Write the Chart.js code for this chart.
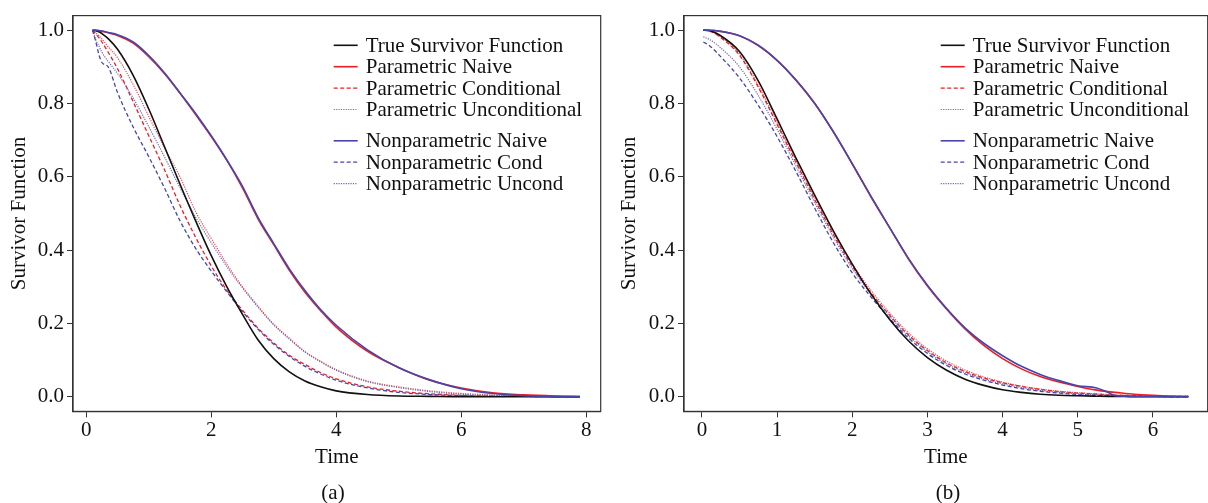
<!DOCTYPE html>
<html>
<head>
<meta charset="utf-8">
<script src="https://cdn.jsdelivr.net/npm/chart.js@4.4.1/dist/chart.umd.min.js"></script>
<style>
  body { margin: 0; background: #fff; width: 1208px; height: 503px; position: relative; overflow: hidden; font-family: 'Liberation Serif', serif; }
  canvas { position: absolute; top: 0; }
  #chartA { left: 0; }
  #chartB { left: 604px; }
  .cap { position: absolute; top: 480px; width: 60px; text-align: center; font-size: 21px; color: #111; }
</style>
</head>
<body>
<canvas id="chartA" width="604" height="503"></canvas>
<canvas id="chartB" width="604" height="503"></canvas>
<div class="cap" style="left:303px">(a)</div>
<div class="cap" style="left:918px">(b)</div>
<script>
const seriesNames = ['True Survivor Function', 'Parametric Naive', 'Parametric Conditional', 'Parametric Unconditional',
                     'Nonparametric Naive', 'Nonparametric Cond', 'Nonparametric Uncond'];

// panel (a)
const timeA = [0.1, 0.15, 0.2, 0.25, 0.35, 0.5, 0.75, 1, 1.25, 1.5, 1.75, 2, 2.25, 2.5, 2.75, 3, 3.25, 3.5, 3.75, 4, 4.5, 5, 5.5, 6, 6.5, 7, 7.5, 7.9];
const trueA      = [1.0, 0.999, 0.996, 0.991, 0.977, 0.948, 0.877, 0.785, 0.683, 0.58, 0.48, 0.385, 0.3, 0.225, 0.155, 0.104, 0.068, 0.043, 0.027, 0.016, 0.006, 0.002, 0.001, 0, 0, 0, 0, 0];
const parNaiveA  = [1.0, 1.0, 0.999, 0.997, 0.993, 0.986, 0.965, 0.928, 0.882, 0.828, 0.77, 0.71, 0.645, 0.57, 0.485, 0.415, 0.345, 0.285, 0.235, 0.19, 0.124, 0.08, 0.045, 0.024, 0.011, 0.005, 0.002, 0.001];
const parCondA   = [1.0, 0.99, 0.98, 0.968, 0.94, 0.895, 0.805, 0.712, 0.62, 0.522, 0.435, 0.357, 0.29, 0.236, 0.187, 0.147, 0.113, 0.088, 0.066, 0.049, 0.027, 0.015, 0.008, 0.004, 0.002, 0.001, 0, 0];
const parUncondA = [1.0, 0.993, 0.985, 0.976, 0.955, 0.925, 0.852, 0.765, 0.68, 0.6, 0.505, 0.432, 0.362, 0.3, 0.247, 0.198, 0.16, 0.123, 0.097, 0.074, 0.043, 0.027, 0.016, 0.009, 0.005, 0.002, 0.001, 0];
const npNaiveA   = [1.0, 1.0, 0.999, 0.998, 0.994, 0.988, 0.968, 0.931, 0.884, 0.829, 0.773, 0.712, 0.646, 0.574, 0.489, 0.418, 0.349, 0.29, 0.238, 0.195, 0.128, 0.079, 0.046, 0.022, 0.009, 0.003, 0.001, 0];
const npCondA    = [1.0, 0.97, 0.935, 0.912, 0.9, 0.83, 0.736, 0.655, 0.57, 0.48, 0.405, 0.343, 0.286, 0.232, 0.184, 0.143, 0.11, 0.083, 0.062, 0.045, 0.024, 0.012, 0.006, 0.003, 0.001, 0.001, 0, 0];
const npUncondA  = [1.0, 0.975, 0.958, 0.94, 0.915, 0.882, 0.815, 0.737, 0.655, 0.57, 0.49, 0.42, 0.355, 0.297, 0.244, 0.196, 0.157, 0.122, 0.095, 0.072, 0.041, 0.025, 0.014, 0.007, 0.003, 0.001, 0, 0];

// panel (b)
const timeB = [0.02, 0.1, 0.25, 0.5, 0.75, 1, 1.25, 1.5, 1.75, 2, 2.25, 2.5, 2.75, 3, 3.25, 3.5, 3.75, 4, 4.25, 4.5, 4.75, 5, 5.25, 5.4, 5.5, 5.75, 6, 6.25, 6.47];
const trueB      = [1.0, 0.999, 0.985, 0.942, 0.862, 0.758, 0.652, 0.55, 0.452, 0.362, 0.28, 0.21, 0.152, 0.107, 0.073, 0.048, 0.031, 0.019, 0.012, 0.007, 0.004, 0.0025, 0.0015, 0.001, 0.001, 0, 0, 0, 0];
const parNaiveB  = [1.0, 1.0, 0.997, 0.985, 0.958, 0.918, 0.864, 0.8, 0.722, 0.635, 0.545, 0.46, 0.375, 0.302, 0.24, 0.185, 0.14, 0.104, 0.076, 0.055, 0.04, 0.028, 0.018, 0.014, 0.012, 0.007, 0.004, 0.002, 0.001];
const parCondB   = [1.0, 0.998, 0.98, 0.932, 0.845, 0.743, 0.64, 0.538, 0.442, 0.356, 0.283, 0.222, 0.168, 0.126, 0.093, 0.069, 0.051, 0.038, 0.028, 0.02, 0.014, 0.01, 0.007, 0.005, 0.004, 0.003, 0.002, 0.001, 0.001];
const parUncondB = [1.0, 0.998, 0.982, 0.935, 0.85, 0.748, 0.645, 0.543, 0.447, 0.362, 0.29, 0.228, 0.174, 0.131, 0.098, 0.073, 0.054, 0.04, 0.029, 0.021, 0.015, 0.011, 0.008, 0.006, 0.005, 0.003, 0.002, 0.001, 0.001];
const npNaiveB   = [1.0, 1.0, 0.997, 0.985, 0.959, 0.918, 0.865, 0.801, 0.723, 0.636, 0.547, 0.461, 0.377, 0.304, 0.242, 0.188, 0.146, 0.112, 0.083, 0.061, 0.044, 0.03, 0.024, 0.012, 0.003, 0.001, 0.001, 0, 0];
const npCondB    = [0.968, 0.958, 0.928, 0.87, 0.795, 0.71, 0.615, 0.515, 0.42, 0.338, 0.272, 0.213, 0.16, 0.118, 0.086, 0.062, 0.045, 0.032, 0.022, 0.015, 0.01, 0.006, 0.004, 0.003, 0.002, 0.001, 0.001, 0, 0];
const npUncondB  = [0.982, 0.975, 0.952, 0.9, 0.822, 0.73, 0.63, 0.53, 0.435, 0.35, 0.28, 0.219, 0.166, 0.123, 0.09, 0.066, 0.048, 0.035, 0.025, 0.017, 0.012, 0.008, 0.005, 0.004, 0.003, 0.002, 0.001, 0, 0];

const RED = '#ee1c24';
const BLUE = '#4646aa';
// line look per series, same order as seriesNames
const looks = [
  { color: '#111111', width: 1.6, dash: [], order: 2 },
  { color: RED, width: 1.6, dash: [], order: 5 },
  { color: RED, width: 1.3, dash: [4, 2.5], order: 6 },
  { color: '#f04a50', width: 1.2, dash: [1.2, 1.2], order: 7 },
  { color: BLUE, width: 1.6, dash: [], order: 1 },
  { color: BLUE, width: 1.3, dash: [4, 2.5], order: 3 },
  { color: '#6a6ab8', width: 1.2, dash: [1.2, 1.2], order: 4 }
];

Chart.defaults.font.family = "'Liberation Serif', 'Times New Roman', serif";
Chart.defaults.font.size = 21;
Chart.defaults.color = '#111';

// frame round the plot + legend inside it
const frameLegend = {
  id: 'frameLegend',
  afterDraw(chart) {
    const { ctx, chartArea: a } = chart;
    ctx.save();
    ctx.strokeStyle = '#333';
    ctx.lineWidth = 1.2;
    ctx.strokeRect(a.left, a.top, a.right - a.left, a.bottom - a.top);
    ctx.font = "21px 'Liberation Serif'";
    ctx.fillStyle = '#111';
    ctx.textBaseline = 'middle';
    const x0 = a.right - 267;
    chart.data.datasets.forEach((ds, i) => {
      const y = a.top + 29.7 + i * 21.4 + (i >= 4 ? 9.9 : 0);
      ctx.strokeStyle = ds.borderColor;
      ctx.lineWidth = ds.borderWidth;
      ctx.setLineDash(ds.borderDash);
      ctx.beginPath();
      ctx.moveTo(x0, y);
      ctx.lineTo(x0 + 24, y);
      ctx.stroke();
      ctx.setLineDash([]);
      ctx.fillText(ds.label, x0 + 32, y + 1);
    });
    ctx.restore();
  }
};

function makeChart(id, time, series, xMin, xMax, step, yWidth, titlePad, padRight) {
  const datasets = series.map((vals, i) => ({
    label: seriesNames[i],
    data: time.map((t, k) => ({ x: t, y: vals[k] })),
    borderColor: looks[i].color,
    borderWidth: looks[i].width,
    borderDash: looks[i].dash,
    order: looks[i].order,
    pointRadius: 0,
    fill: false,
    cubicInterpolationMode: 'monotone'
  }));
  return new Chart(document.getElementById(id), {
    type: 'line',
    data: { datasets },
    options: {
      responsive: false,
      animation: false,
      layout: { padding: { top: 15.3, right: padRight, left: 0, bottom: 0 } },
      plugins: { legend: { display: false }, tooltip: { enabled: false } },
      scales: {
        x: {
          type: 'linear', min: xMin, max: xMax,
          afterFit: s => { s.height = 91.6; },
          grid: { drawOnChartArea: false, tickLength: 6, color: '#333' },
          border: { color: '#333', width: 1.2 },
          ticks: { stepSize: step, includeBounds: false, padding: 0, maxRotation: 0, autoSkip: false },
          title: { display: true, text: 'Time', padding: { top: 0, bottom: 33.4 } }
        },
        y: {
          min: -0.04, max: 1.04,
          afterFit: s => { s.width = yWidth; },
          grid: { drawOnChartArea: false, tickLength: 6, color: '#333' },
          border: { color: '#333', width: 1.2 },
          ticks: { stepSize: 0.2, includeBounds: false, padding: 3, callback: v => v.toFixed(1) },
          title: { display: true, text: 'Survivor Function', padding: { top: titlePad, bottom: 0 } }
        }
      }
    },
    plugins: [frameLegend]
  });
}

makeChart('chartA', timeA, [trueA, parNaiveA, parCondA, parUncondA, npNaiveA, npCondA, npUncondA], -0.2128, 8.2328, 2, 73, 6.4, 3.3);
makeChart('chartB', timeB, [trueB, parNaiveB, parCondB, parUncondB, npNaiveB, npCondB, npUncondB], -0.238, 6.728, 1, 80, 12.4, 0.3);
</script>
</body>
</html>
